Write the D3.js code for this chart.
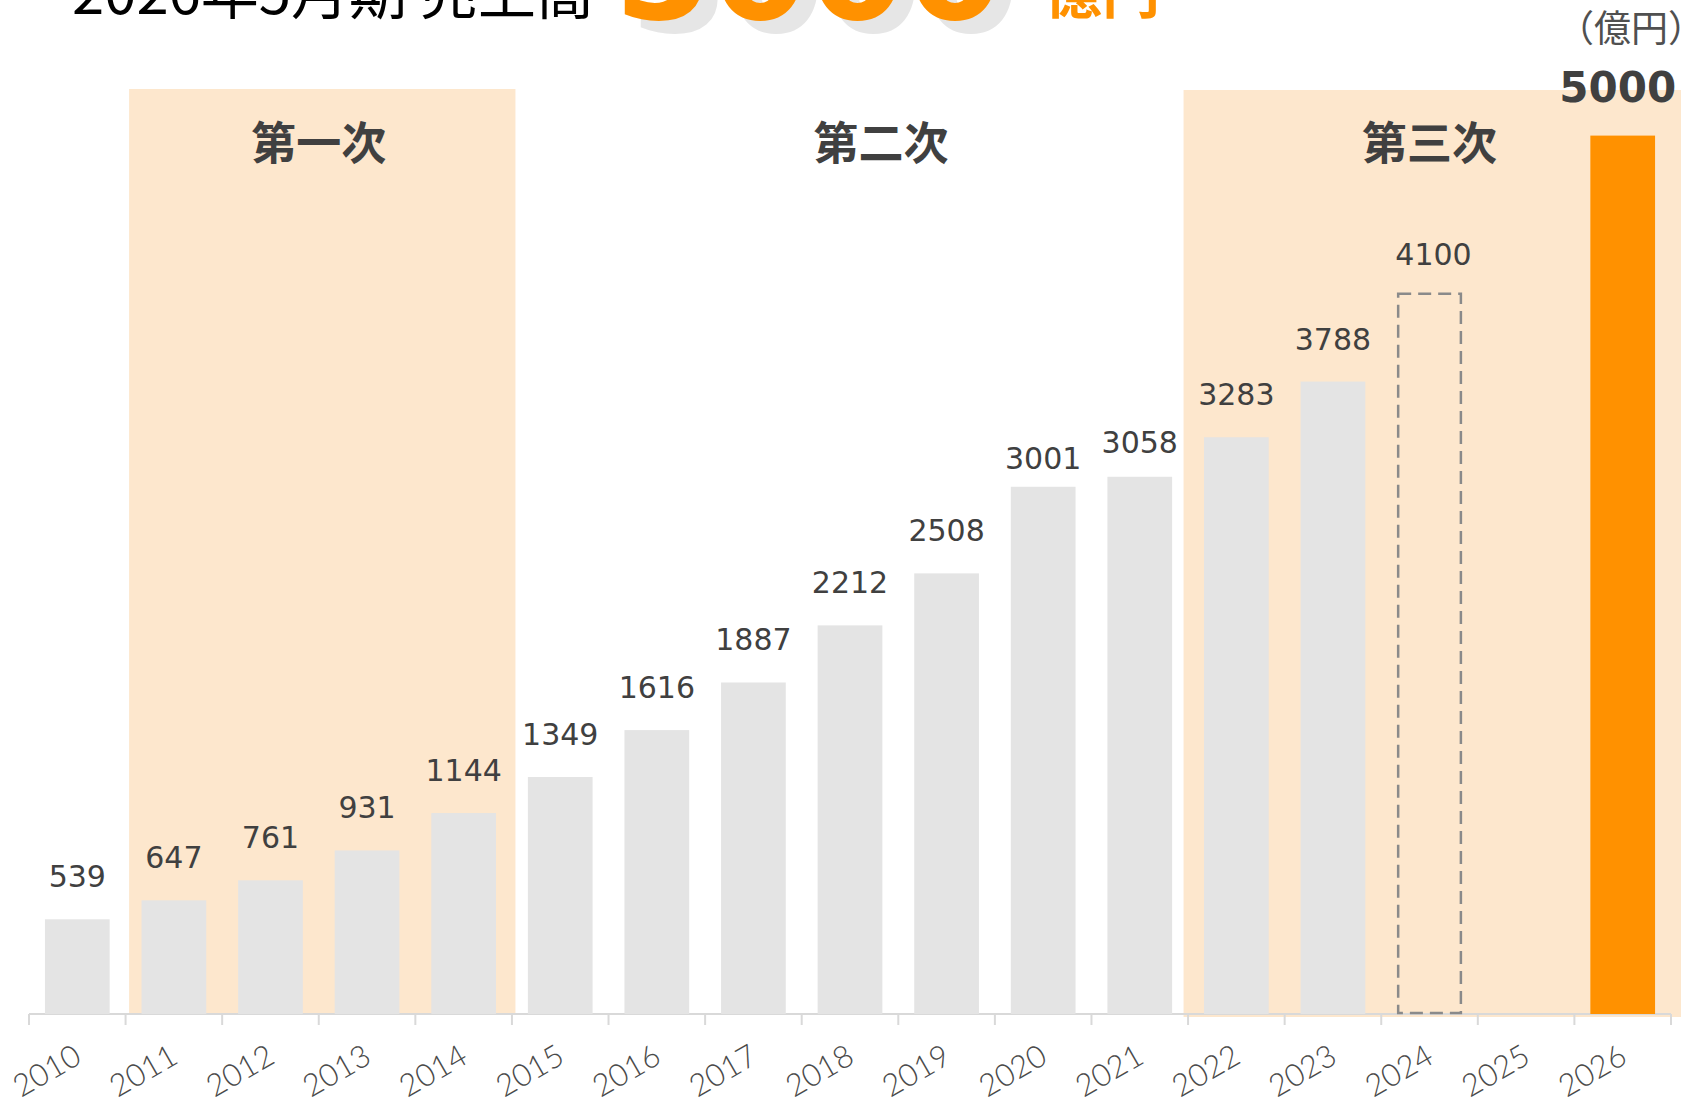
<!DOCTYPE html>
<html>
<head>
<meta charset="utf-8">
<script src="https://cdn.jsdelivr.net/npm/d3@7"></script>
<style>
    body { margin: 0; background: #fff; }
    svg { display: block; }
    .value { font-family: "DejaVu Sans", Verdana, sans-serif; font-size: 30px; fill: #404040; }
    .year { font-family: Lato, "Liberation Sans", sans-serif; font-weight: 300; font-size: 31px; fill: #4a4a4a; }
    .jp { font-family: "Noto Sans CJK JP", sans-serif; }
</style>
</head>
<body>
<svg></svg>
<script>
// chart data
var years = ["2010", "2011", "2012", "2013", "2014", "2015", "2016", "2017", "2018",
             "2019", "2020", "2021", "2022", "2023", "2024", "2025", "2026"];
var labels = [539, 647, 761, 931, 1144, 1349, 1616, 1887, 2212, 2508, 3001, 3058,
              3283, 3788, 4100, null, 5000];
// bar heights as drawn in the source (the 2023 bar is drawn shorter than its label)
var barValues = [539, 647, 761, 931, 1144, 1349, 1616, 1887, 2212, 2508, 3001, 3058,
                 3283, 3600, 4100, null, 5000];
var barKind = ["actual", "actual", "actual", "actual", "actual", "actual", "actual",
               "actual", "actual", "actual", "actual", "actual", "actual", "actual",
               "plan", "none", "target"];

var phaseNames = ["第一次", "第二次", "第三次"];
var phaseFrom = ["2011", "2015", "2022"];
var phaseTo = ["2014", "2021", "2026"];
var phaseShaded = [true, false, true];

var titleText = "2026年5月期 売上高";
var titleValue = "5000";
var titleUnit = "億円";
var unitText = "（億円）";

window.onload = function () {

    // set svg configuration
    var width = 1688;
    var height = 1098;
    var svg = d3.select("svg")
        .attr("width", width)
        .attr("height", height);

    var margin = {left: 29, right: 17, top: 135.6, baseline: 1014};

    // x scale: bars centred in equal slots
    var xScale = d3.scaleBand()
        .domain(years)
        .range([margin.left, width - margin.right])
        .paddingInner(0.33)
        .paddingOuter(0.165);
    var step = xScale.step();
    var bw = xScale.bandwidth();
    var slotStart = function (y) { return xScale(y) - (step - bw) / 2; };
    var lastYear = years[years.length - 1];

    var yScale = d3.scaleLinear()
        .domain([0, 5000])
        .range([margin.baseline, margin.top]);

    var rows = years.map(function (y, i) {
        return {year: y, label: labels[i], value: barValues[i], kind: barKind[i]};
    });

    var phases = phaseNames.map(function (n, i) {
        return {name: n, from: phaseFrom[i], to: phaseTo[i], shaded: phaseShaded[i]};
    });

    // phase shading (the last block runs a little past the axis)
    var shadeX = function (p) {
        return p.to === lastYear ? slotStart(p.from) - 4.5 : slotStart(p.from) + 3.5;
    };
    var shadeX2 = function (p) {
        return p.to === lastYear ? slotStart(p.to) + step + 10 : slotStart(p.to) + step + 3.5;
    };

    svg.selectAll("rect.phase")
        .data(phases.filter(function (p) { return p.shaded; }))
        .enter()
        .append("rect")
        .attr("class", "phase")
        .attr("x", shadeX)
        .attr("y", function (p) { return p.to === lastYear ? 90 : 89; })
        .attr("width", function (p) { return shadeX2(p) - shadeX(p); })
        .attr("height", function (p) { return p.to === lastYear ? 927 : 925; })
        .style("fill", "#fde7cd");

    // phase labels
    svg.selectAll("text.phase")
        .data(phases)
        .enter()
        .append("text")
        .attr("class", "jp phase")
        .attr("x", function (p) {
            var cx = (slotStart(p.from) + slotStart(p.to) + step) / 2;
            if (p.name === "第二次") cx += 31;
            return cx;
        })
        .attr("y", 160)
        .attr("text-anchor", "middle")
        .style("font-size", "45px")
        .style("font-weight", "bold")
        .style("fill", "#404040")
        .text(function (p) { return p.name; });

    // axis line and slot ticks
    svg.append("line")
        .attr("x1", margin.left)
        .attr("x2", width - margin.right)
        .attr("y1", margin.baseline)
        .attr("y2", margin.baseline)
        .style("stroke", "#d9d9d9")
        .style("stroke-width", 2);

    svg.selectAll("line.tick")
        .data(years.concat(["end"]))
        .enter()
        .append("line")
        .attr("class", "tick")
        .attr("x1", function (d, i) { return margin.left + i * step; })
        .attr("x2", function (d, i) { return margin.left + i * step; })
        .attr("y1", margin.baseline)
        .attr("y2", margin.baseline + 11)
        .style("stroke", "#d9d9d9")
        .style("stroke-width", 2);

    // solid bars
    svg.selectAll("rect.bar")
        .data(rows.filter(function (r) { return r.kind === "actual" || r.kind === "target"; }))
        .enter()
        .append("rect")
        .attr("class", "bar")
        .attr("x", function (r) { return xScale(r.year); })
        .attr("y", function (r) { return yScale(r.value); })
        .attr("width", bw)
        .attr("height", function (r) { return yScale(0) - yScale(r.value); })
        .style("fill", function (r) { return r.kind === "target" ? "#ff9100" : "#e4e4e4"; });

    // dashed plan bar
    svg.selectAll("rect.plan")
        .data(rows.filter(function (r) { return r.kind === "plan"; }))
        .enter()
        .append("rect")
        .attr("class", "plan")
        .attr("x", function (r) { return xScale(r.year) + 1; })
        .attr("y", function (r) { return yScale(r.value); })
        .attr("width", bw - 2)
        .attr("height", function (r) { return yScale(0) - yScale(r.value) - 1; })
        .style("fill", "none")
        .style("stroke", "#8a8a8a")
        .style("stroke-width", 2.5)
        .style("stroke-dasharray", "13,7");

    // value labels (a couple sit closer to their bars in the source)
    var labelGap = {"2020": 18, "2021": 24};
    svg.selectAll("text.value")
        .data(rows.filter(function (r) { return r.kind === "actual" || r.kind === "plan"; }))
        .enter()
        .append("text")
        .attr("class", "value")
        .attr("x", function (r) { return xScale(r.year) + bw / 2 + (r.kind === "plan" ? 4 : 0); })
        .attr("y", function (r) {
            var gap = r.kind === "plan" ? 29 : (labelGap[r.year] || 32);
            return yScale(r.value) - gap;
        })
        .attr("text-anchor", "middle")
        .text(function (r) { return r.label; });

    svg.selectAll("text.target")
        .data(rows.filter(function (r) { return r.kind === "target"; }))
        .enter()
        .append("text")
        .attr("class", "value target")
        .attr("x", function (r) { return xScale(r.year) + bw / 2 - 5; })
        .attr("y", function (r) { return yScale(r.value) - 34; })
        .attr("text-anchor", "middle")
        .style("font-size", "42px")
        .style("font-weight", "bold")
        .text(function (r) { return r.label; });

    // year labels, rotated
    svg.selectAll("text.year")
        .data(years)
        .enter()
        .append("text")
        .attr("class", "year")
        .attr("text-anchor", "end")
        .attr("transform", function (d) {
            return "translate(" + (xScale(d) + bw / 2 + 6) + "," + 1062 + ") rotate(-30)";
        })
        .text(function (d) { return d; });

    // unit
    svg.append("text")
        .attr("class", "jp")
        .attr("x", 1557)
        .attr("y", 42)
        .style("font-size", "37px")
        .style("fill", "#505050")
        .text(unitText);

    // headline (cut off at the top of the picture)
    svg.append("text")
        .attr("class", "jp")
        .attr("x", 72)
        .attr("y", 14)
        .style("font-size", "58px")
        .style("fill", "#000")
        .text(titleText);

    svg.append("text")
        .attr("x", 630)
        .attr("y", 32)
        .style("font-family", "'DejaVu Sans', sans-serif")
        .style("font-size", "140px")
        .style("font-weight", "bold")
        .style("fill", "#e6e6e6")
        .text(titleValue);

    svg.append("text")
        .attr("x", 614)
        .attr("y", 19)
        .style("font-family", "'DejaVu Sans', sans-serif")
        .style("font-size", "140px")
        .style("font-weight", "bold")
        .style("fill", "#ff9100")
        .text(titleValue);

    svg.append("text")
        .attr("class", "jp")
        .attr("x", 1044)
        .attr("y", 13)
        .style("font-size", "58px")
        .style("font-weight", "bold")
        .style("fill", "#ff9100")
        .text(titleUnit);
};
</script>
</body>
</html>
